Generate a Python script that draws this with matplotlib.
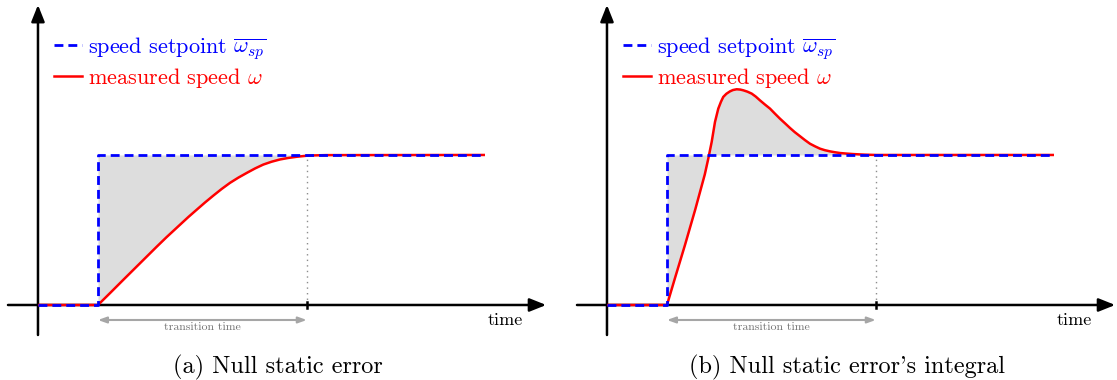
import numpy as np
import matplotlib
matplotlib.use("Agg")
import matplotlib.pyplot as plt
from matplotlib.lines import Line2D

plt.rcParams['font.family'] = ['cmr10', 'DejaVu Serif']
plt.rcParams['mathtext.fontset'] = 'cm'
plt.rcParams['axes.unicode_minus'] = False

# time axis: setpoint step at t=1, transition ends at t_end
t_step = 1.0
t_end = 4.48
t_last = 7.45
setpoint_t = [0.0, t_step, t_step, t_last]
setpoint_y = [0.0, 0.0, 1.0, 1.0]

# (a) measured speed
speed_a_t = [0.0, 1.0, 1.21, 1.42, 1.70, 1.98, 2.14, 2.367, 2.505, 2.645, 2.783, 2.922,
             3.06, 3.2, 3.34, 3.478, 3.617, 3.755, 3.894, 4.033, 4.17, 4.312, 4.48,
             4.588, 4.8, 7.45]
speed_a_y = [0.0, 0.0, 0.083, 0.167, 0.278, 0.389, 0.451, 0.535, 0.586, 0.635, 0.683, 0.729,
             0.773, 0.814, 0.849, 0.880, 0.910, 0.936, 0.955, 0.970, 0.980, 0.988, 0.995,
             0.997, 0.999, 1.0]

# (b) measured speed with overshoot
speed_b_t = [0.0, 1.0, 1.13, 1.30, 1.47, 1.63, 1.688, 1.745, 1.80, 1.855, 1.90, 1.938,
             1.99, 2.05, 2.10, 2.162, 2.22, 2.272, 2.34, 2.412, 2.48, 2.55, 2.63, 2.717,
             2.80, 2.883, 2.97, 3.05, 3.13, 3.217, 3.30, 3.383, 3.47, 3.55, 3.63, 3.717,
             3.80, 3.883, 4.0, 4.105, 4.3, 4.48, 7.45]
speed_b_y = [0.0, 0.0, 0.175, 0.400, 0.635, 0.870, 0.975, 1.087, 1.22, 1.309, 1.355, 1.387,
             1.408, 1.424, 1.433, 1.438, 1.436, 1.431, 1.422, 1.409, 1.389, 1.364, 1.337, 1.309,
             1.275, 1.242, 1.210, 1.180, 1.152, 1.125, 1.099, 1.075, 1.057, 1.042, 1.032, 1.024,
             1.018, 1.013, 1.009, 1.006, 1.002, 1.0, 1.0]

captions = ['(a) Null static error', "(b) Null static error's integral"]

fig = plt.figure(figsize=(11.17, 3.8), dpi=100)
ax_a = fig.add_axes([0, 0, 558 / 1117, 1])
ax_b = fig.add_axes([569 / 1117, 0, 548 / 1117, 1])
ax_a.set_xlim(-0.633, 8.667)
ax_b.set_xlim(-0.633, 8.5)

for ax, st, sy, cap in [(ax_a, speed_a_t, speed_a_y, captions[0]),
                         (ax_b, speed_b_t, speed_b_y, captions[1])]:
    ax.set_ylim(-0.5, 2.033)
    ax.axis('off')

    # shaded error area
    st_arr = np.array(st)
    sy_arr = np.array(sy)
    mask = (st_arr >= t_step) & (st_arr <= t_end)
    ax.fill_between(st_arr[mask], sy_arr[mask], 1.0, color='#dddddd', lw=0, zorder=1)

    # axes with arrow heads
    ax.annotate('', xy=(8.47, 0), xytext=(-0.5, 0), annotation_clip=False,
                arrowprops=dict(arrowstyle='-|>,head_length=1.0,head_width=0.4',
                                color='black', lw=1.8, shrinkA=0, shrinkB=0), zorder=2)
    ax.annotate('', xy=(0, 2.0), xytext=(0, -0.2), annotation_clip=False,
                arrowprops=dict(arrowstyle='-|>,head_length=1.0,head_width=0.4',
                                color='black', lw=1.8, shrinkA=0, shrinkB=0), zorder=2)

    # transition end marker
    ax.plot([t_end, t_end], [0, 1], color='0.55', ls=(0, (1, 3)), lw=1.0, zorder=2)
    ax.plot([t_end, t_end], [-0.02, 0.02], color='black', lw=1.8, zorder=3)

    # curves
    ax.plot(st, sy, color='red', lw=1.8, zorder=4, solid_capstyle='butt',
            solid_joinstyle='round')
    ax.plot(setpoint_t, setpoint_y, color='blue', lw=2.0, ls=(0, (3.2, 1.8)), zorder=5)

    # transition time arrow
    ax.annotate('', xy=(t_end, -0.1), xytext=(t_step, -0.1),
                arrowprops=dict(arrowstyle='<|-|>,head_length=0.5,head_width=0.18',
                                color='0.65', lw=1.5, shrinkA=0, shrinkB=0))
    ax.text((t_step + t_end) / 2, -0.15, 'transition time', fontsize=8.5,
            color='0.45', ha='center', va='center')

    ax.text(7.78, -0.1, 'time', fontsize=13, ha='center', va='center')
    ax.text(4.0, -0.413, cap, fontsize=17.5, ha='center', va='center')

    handles = [Line2D([], [], color='blue', lw=2.0, ls=(0, (3.2, 1.8))),
               Line2D([], [], color='red', lw=1.8)]
    labels = [r'speed setpoint $\overline{\omega_{sp}}$', r'measured speed $\omega$']
    ax.legend(handles, labels, loc='upper left', bbox_to_anchor=(0.27, 1.80),
              bbox_transform=ax.transData, frameon=False, fontsize=16,
              handlelength=1.27, handletextpad=0.25, labelspacing=0.2,
              borderpad=0, borderaxespad=0, labelcolor='linecolor')

fig.savefig('out.png', dpi=100)
